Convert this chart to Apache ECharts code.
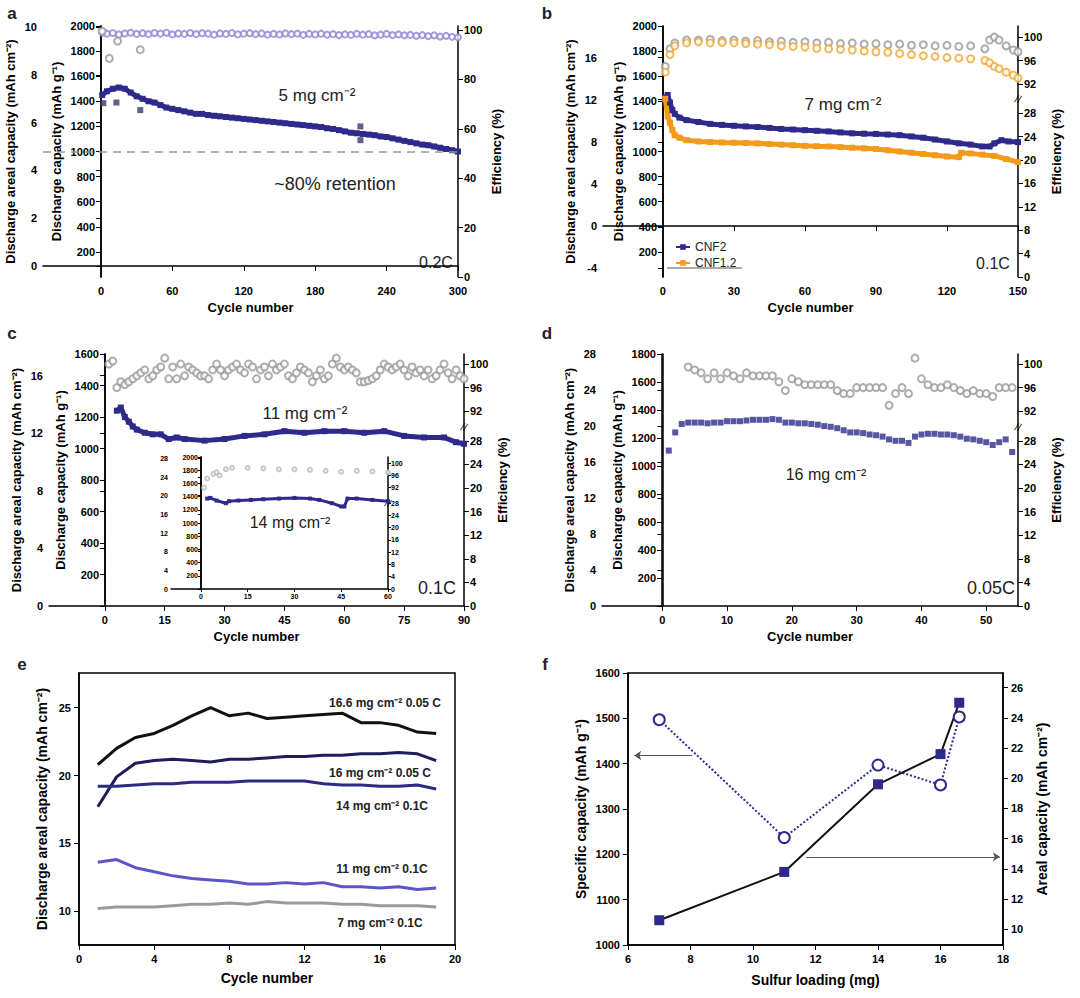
<!DOCTYPE html>
<html><head><meta charset="utf-8">
<script src="https://cdn.jsdelivr.net/npm/echarts@6/dist/echarts.min.js"></script>
<style>html,body{margin:0;background:#fff}#c{width:1080px;height:998px}</style>
</head><body><div id="c"></div>
<script>
// ---- data: panel a (5 mg cm-2, 0.2C) ----
var aCyc = [1,5,10,15,20,25,30,35,40,45,50,55,60,65,70,75,80,85,90,95,100,105,110,115,120,125,130,135,140,145,150,155,160,165,170,175,180,185,190,195,200,205,210,215,220,225,230,235,240,245,250,255,260,265,270,275,280,285,290,295,300];
var aCap = [1450,1480,1500,1510,1500,1470,1440,1420,1400,1390,1370,1350,1340,1330,1320,1310,1300,1300,1290,1285,1280,1275,1270,1265,1260,1255,1250,1245,1240,1235,1230,1225,1220,1215,1210,1205,1200,1195,1185,1180,1170,1160,1150,1145,1140,1135,1130,1120,1115,1105,1095,1085,1075,1065,1055,1050,1040,1030,1020,1010,1000];
var aEff = [99,98.5,98.8,98.2,98.6,98.9,98.4,98.7,98.3,98.8,98.5,98.9,98.2,98.6,98.4,98.8,98.3,98.7,98.5,98.1,98.6,98.4,98.8,98.2,98.5,98.7,98.3,98.6,98.1,98.4,98.2,98.6,98.3,98.5,98.0,98.4,98.2,98.5,98.1,98.3,97.9,98.2,98.0,98.4,98.1,98.3,97.8,98.1,98.4,97.9,98.2,97.8,98.0,97.6,97.9,97.5,97.8,97.3,97.6,97.2,97.0];
var aCapOutCyc = [2,13,33,218,218];
var aCapOut = [1385,1390,1330,1200,1090];
var aEffOutCyc = [1,7,14,33];
var aEffOut = [99.5,88.5,95.5,92];

// ---- panel b (7 mg cm-2, 0.1C) ----
var bCyc = [1,2,3,4,5,7,10,15,20,25,30,35,40,45,50,55,60,65,70,75,80,85,90,95,100,105,110,115,120,125,130,135,138,140,143,146,150];
var bCnf2 = [1430,1450,1390,1330,1300,1270,1250,1235,1220,1212,1205,1200,1195,1188,1180,1175,1170,1165,1160,1152,1145,1142,1140,1135,1130,1120,1110,1095,1080,1065,1055,1040,1040,1065,1090,1080,1075];
var bCnf12Cyc = [1,2,3,4,5,7,10,15,20,25,30,35,40,45,50,55,60,65,70,75,80,85,90,95,100,105,110,115,120,125,126,130,135,140,145,150];
var bCnf12 = [1420,1280,1230,1170,1130,1110,1090,1080,1075,1072,1070,1068,1065,1060,1055,1050,1045,1042,1040,1035,1030,1025,1020,1010,1000,990,980,970,960,955,990,985,975,965,940,915];
var bEffCyc = [1,3,5,10,15,20,25,30,35,40,45,50,55,60,65,70,75,80,85,90,95,100,105,110,115,120,125,130,136,138,140,142,145,148,150];
var bEff2 = [95,98,99,99.5,99.5,99.6,99.4,99.5,99.3,99.4,99.2,99.3,99.1,99.2,99.0,99.1,98.9,99.0,98.8,98.9,98.7,98.8,98.6,98.7,98.5,98.6,98.4,98.5,98.0,99.5,100,99.5,98.5,97.8,97.5];
var bEff12 = [94,97,98.5,99,99.2,99,99.1,99,98.9,98.8,98.7,98.5,98.4,98.3,98.1,98,97.9,97.8,97.6,97.5,97.4,97.2,97.0,96.8,96.7,96.5,96.4,96.3,96.0,95.6,95,94.6,94,93.5,93];

// ---- panel c (11 mg cm-2, 0.1C) ----
var cCyc = [3,4,5,6,7,8,10,12,14,16,18,20,25,30,35,40,45,50,55,60,65,70,75,80,85,88,90];
var cCap = [1240,1260,1200,1170,1140,1120,1100,1090,1090,1060,1070,1060,1050,1060,1080,1090,1110,1100,1110,1110,1100,1110,1080,1070,1070,1040,1030];
var cEff = [100,100.5,96,97,96.5,97,97.5,98,98.5,99,97.5,98,99,99.5,101,97.5,99.5,97.5,100,98,99.5,99,98.5,98,98,97.5,99,100,99,98,99,99.5,100,99,98.5,100,99.5,97.5,99,99.5,98,100,99,99.5,100,98,97.5,98.5,99.5,99,98.5,97,98,99,97.5,98,100,101,99.5,99,99.5,99,98.5,97,97,97.2,97.5,98,99,100,99.5,99,99.5,100,99,98,99.5,98.5,99,98,99,97.5,98,99,100,98.5,97.5,99,98,97.5];
// inset (14 mg cm-2)
var iCyc = [2,3,5,8,9,12,16,20,25,30,35,38,42,45,46,47,50,55,60];
var iCap = [1370,1380,1340,1300,1330,1340,1350,1360,1370,1380,1370,1350,1300,1250,1250,1370,1370,1350,1330];
var iEffCyc = [1,2,4,5,6,8,10,15,20,25,30,35,40,45,50,55,60];
var iEff = [92,95,96.5,97,96,98,98.5,98.5,98.3,98,98,97.8,97.5,97.2,97.5,97.3,97];

// ---- panel d (16 mg cm-2, 0.05C) ----
var dCap = [1110,1240,1300,1310,1310,1310,1305,1310,1310,1320,1320,1320,1325,1330,1330,1330,1335,1330,1310,1310,1305,1305,1300,1295,1285,1280,1270,1255,1240,1240,1235,1225,1220,1210,1190,1180,1180,1165,1210,1225,1230,1230,1225,1225,1220,1210,1195,1190,1180,1170,1150,1170,1190,1100];
var dEffCyc = [4,5,6,7,8,9,10,11,12,13,14,15,16,17,18,19,20,21,22,23,24,25,26,27,28,29,30,31,32,33,34,35,36,37,38,39,40,41,42,43,44,45,46,47,48,49,50,51,52,53,54];
var dEff = [99.5,99,98.5,97.5,98.5,97.5,98.5,98,97.5,98.5,98,98,98,98,97,95.5,97.5,97,96.5,96.5,96.5,96.5,96.5,95.5,95,95,96,96,96,96,96,93,95,96,95,101,97.5,96.5,96,96,96.5,96,95.5,95,95.5,95,95,94.5,96,96,96];

// ---- panel e (areal capacity vs cycle) ----
var eCyc = [1,2,3,4,5,6,7,8,9,10,11,12,13,14,15,16,17,18,19];
var eNames = ['16.6 mg cm⁻² 0.05 C','16 mg cm⁻² 0.05 C','14 mg cm⁻² 0.1C','11 mg cm⁻² 0.1C','7 mg cm⁻² 0.1C'];
var e166 = [20.8,22.0,22.8,23.1,23.7,24.4,25.0,24.4,24.6,24.2,24.3,24.4,24.5,24.6,23.9,23.9,23.7,23.2,23.1];
var e16 = [17.7,19.9,20.9,21.1,21.2,21.1,21.0,21.2,21.2,21.3,21.4,21.4,21.5,21.5,21.6,21.6,21.7,21.6,21.1];
var e14 = [19.2,19.2,19.3,19.4,19.4,19.5,19.5,19.5,19.6,19.6,19.6,19.6,19.4,19.3,19.3,19.2,19.2,19.3,19.0];
var e11 = [13.6,13.8,13.2,12.9,12.6,12.4,12.3,12.2,12.0,12.0,12.1,12.0,12.1,11.8,11.8,11.7,11.8,11.6,11.7];
var e7 = [10.2,10.3,10.3,10.3,10.4,10.5,10.5,10.6,10.5,10.7,10.6,10.6,10.6,10.5,10.5,10.4,10.4,10.4,10.3];

// ---- panel f (vs sulfur loading) ----
var fLoad = [7,11,14,16,16.6];
var fSpec = [1497,1237,1397,1353,1503];
var fAreal = [10.6,13.8,19.6,21.6,25.0];

var navy = '#2e2a8c';
var FONT = 'Liberation Sans';
function plain(v) { return String(v); }
var lab = { color: '#000', fontWeight: 'bold', fontSize: 11, fontFamily: FONT, formatter: plain };
var nm = { color: '#000', fontWeight: 'bold', fontSize: 13, fontFamily: FONT };
var line = { show: true, lineStyle: { color: '#000', width: 1.5 } };

function pairs(xs, ys, f) {
  return xs.map(function (x, i) { return [x, f ? f(ys[i]) : ys[i]]; });
}
function brk(e) { return e - 59; }            // broken efficiency axis: 92..100 drawn at 33..41
function brkLab(v) { return v > 30 ? String(v + 59) : String(v); }
function steps(a, b, s) { var r = []; for (var v = a; v <= b + 1e-9; v += s) r.push(+v.toFixed(3)); return r; }

var grids = [], xAxes = [], yAxes = [], series = [];

function panel(p) {
  var gi = grids.length;
  grids.push({ left: p.l, top: p.t, width: p.w, height: p.h, outerBoundsMode: 'none' });
  xAxes.push({
    gridIndex: gi, type: 'value', min: p.xMin, max: p.xMax,
    name: p.small ? '' : 'Cycle number', nameLocation: 'middle', nameGap: 24, nameTextStyle: nm,
    axisLine: line, splitLine: { show: false },
    axisTick: { customValues: p.xTicks, length: p.small ? 3 : 5 },
    axisLabel: Object.assign({}, lab, { customValues: p.xTicks, fontSize: p.small ? 7 : 11, margin: p.small ? 4 : 8 })
  });
  var ya = yAxes.length;
  var fs = p.small ? 7 : 11;
  yAxes.push({
    gridIndex: gi, type: 'value', position: 'left', min: p.arMin, max: p.arMax,
    name: p.small ? '' : 'Discharge areal capacity (mAh cm⁻²)', nameLocation: 'middle', nameGap: 26, nameTextStyle: nm,
    axisLine: line, splitLine: { show: false },
    axisTick: { customValues: p.arTicks, length: p.small ? 3 : 5 },
    axisLabel: Object.assign({}, lab, { customValues: p.arTicks, fontSize: fs, margin: p.small ? 3 : 6 })
  });
  yAxes.push({
    gridIndex: gi, type: 'value', position: 'left', offset: p.specOff, min: 0, max: p.spMax,
    name: p.small ? '' : 'Discharge capacity (mAh g⁻¹)', nameLocation: 'middle', nameGap: 38, nameTextStyle: nm,
    axisLine: line, splitLine: { show: false },
    axisTick: { customValues: p.spTicks, length: p.small ? 3 : 5 },
    axisLabel: Object.assign({}, lab, { customValues: p.spTicks, fontSize: fs, margin: p.small ? 3 : 6 })
  });
  yAxes.push({
    gridIndex: gi, type: 'value', position: 'right', min: 0, max: p.efMax,
    name: p.small ? '' : 'Efficiency (%)', nameLocation: 'middle', nameGap: 32, nameTextStyle: nm,
    axisLine: line, splitLine: { show: false },
    axisTick: { customValues: p.efTicks, length: p.small ? 3 : 5 },
    axisLabel: Object.assign({}, lab, { customValues: p.efTicks, fontSize: fs, margin: p.small ? 3 : 6,
      formatter: p.efFmt || plain })
  });
  return { x: gi, spec: ya + 1, eff: ya + 2 };
}
function capSeries(ax, data, color, size, extra) {
  return Object.assign({ type: 'line', xAxisIndex: ax.x, yAxisIndex: ax.spec, data: data,
    symbol: 'rect', symbolSize: size, showSymbol: true, itemStyle: { color: color },
    lineStyle: { color: color, width: size - 1 }, z: 3 }, extra || {});
}
function effSeries(ax, data, color, size) {
  return { type: 'scatter', xAxisIndex: ax.x, yAxisIndex: ax.eff, data: data,
    symbol: 'emptyCircle', symbolSize: size, itemStyle: { color: color, borderColor: color, borderWidth: 1 } };
}
var brkTicks = [0, 4, 8, 12, 16, 20, 24, 28, 33, 37, 41];

// panel a
var A = panel({ l: 43, t: 26, w: 415, h: 251, xMin: -48.7, xMax: 300, xTicks: steps(0, 300, 60),
  arMin: -0.46, arMax: 10.04, arTicks: steps(0, 10, 2), specOff: -58, spMax: 2000, spTicks: steps(200, 2000, 200),
  efMax: 101.6, efTicks: steps(0, 100, 20) });
series.push(effSeries(A, pairs(aCyc, aEff), '#8a86d6', 6));
series.push(effSeries(A, pairs(aEffOutCyc, aEffOut), '#999', 7));
series.push(capSeries(A, pairs(aCyc, aCap), navy, 6, {
  markLine: { silent: true, symbol: 'none', label: { show: false },
    lineStyle: { color: '#999', type: [8, 6], width: 1.5 }, data: [{ yAxis: 1000 }] } }));
series.push({ type: 'scatter', xAxisIndex: A.x, yAxisIndex: A.spec, data: pairs(aCapOutCyc, aCapOut),
  symbol: 'rect', symbolSize: 6, itemStyle: { color: '#3a3a70' } });

// panel b
var B = panel({ l: 603, t: 26, w: 415, h: 251, xMin: -25.3, xMax: 150, xTicks: steps(0, 150, 30),
  arMin: -4.83, arMax: 19.0, arTicks: steps(-4, 16, 4), specOff: -60, spMax: 2000, spTicks: steps(200, 2000, 200),
  efMax: 42.9, efTicks: brkTicks, efFmt: brkLab });
series.push(effSeries(B, pairs(bEffCyc, bEff2, brk), '#999', 7));
series.push(effSeries(B, pairs(bEffCyc, bEff12, brk), '#f0a830', 7));
series.push(capSeries(B, pairs(bCyc, bCnf2), navy, 6, { name: 'CNF2' }));
series.push(capSeries(B, pairs(bCnf12Cyc, bCnf12), '#f39a1e', 6, { name: 'CNF1.2' }));

// panel c
var C = panel({ l: 49, t: 354, w: 415, h: 252, xMin: -14, xMax: 90, xTicks: steps(0, 90, 15),
  arMin: 0, arMax: 17.5, arTicks: steps(0, 16, 4), specOff: -56, spMax: 1600, spTicks: steps(200, 1600, 200),
  efMax: 42.7, efTicks: brkTicks, efFmt: brkLab });
series.push(effSeries(C, pairs(steps(1, 90, 1), cEff, brk), '#999', 7));
series.push(capSeries(C, pairs(cCyc, cCap), navy, 6));
// inset of c
var I = panel({ small: true, l: 171, t: 457, w: 217, h: 132, xMin: -9.6, xMax: 60, xTicks: steps(0, 60, 15),
  arMin: 0, arMax: 28.3, arTicks: steps(0, 28, 4), specOff: -30, spMax: 2000, spTicks: steps(200, 2000, 200),
  efMax: 43, efTicks: brkTicks, efFmt: brkLab });
series.push(effSeries(I, pairs(iEffCyc, iEff, brk), '#bbb', 4));
series.push(capSeries(I, pairs(iCyc, iCap), navy, 4));

// panel d
var D = panel({ l: 602, t: 354, w: 416, h: 252, xMin: -9.3, xMax: 54.9, xTicks: steps(0, 50, 10),
  arMin: 0, arMax: 28, arTicks: steps(0, 28, 4), specOff: -60, spMax: 1800, spTicks: steps(200, 1800, 200),
  efMax: 42.7, efTicks: brkTicks, efFmt: brkLab });
series.push(effSeries(D, pairs(dEffCyc, dEff, brk), '#999', 7));
series.push({ type: 'scatter', xAxisIndex: D.x, yAxisIndex: D.spec, data: pairs(steps(1, 54, 1), dCap),
  symbol: 'rect', symbolSize: 6, itemStyle: { color: navy } });

// panel e
var gE = grids.length;
grids.push({ left: 79, top: 673, width: 376, height: 272, show: true, borderColor: '#000', borderWidth: 1.5, outerBoundsMode: 'none' });
xAxes.push({ gridIndex: gE, type: 'value', min: 0, max: 20, interval: 4, name: 'Cycle number', nameLocation: 'middle',
  nameGap: 26, nameTextStyle: Object.assign({}, nm, { fontSize: 14 }), axisLine: line, splitLine: { show: false }, axisLabel: lab });
var yE = yAxes.length;
yAxes.push({ gridIndex: gE, type: 'value', min: 7.5, max: 27.56, name: 'Discharge areal capacity (mAh cm⁻²)',
  nameLocation: 'middle', nameGap: 30, nameTextStyle: Object.assign({}, nm, { fontSize: 14 }), axisLine: line,
  splitLine: { show: false }, axisTick: { customValues: steps(10, 25, 5) },
  axisLabel: Object.assign({}, lab, { customValues: steps(10, 25, 5) }) });
[[e166, '#111'], [e16, '#1e1c5a'], [e14, '#2b2b85'], [e11, '#5a55c8'], [e7, '#9a9a9a']].forEach(function (s, i) {
  series.push({ type: 'line', name: eNames[i], xAxisIndex: gE, yAxisIndex: yE, data: pairs(eCyc, s[0]),
    showSymbol: false, lineStyle: { color: s[1], width: 3 } });
});

// panel f
var gF = grids.length;
grids.push({ left: 628, top: 673, width: 375, height: 272, show: true, borderColor: '#000', borderWidth: 1.5, outerBoundsMode: 'none' });
xAxes.push({ gridIndex: gF, type: 'value', min: 6, max: 18, interval: 2, name: 'Sulfur loading (mg)', nameLocation: 'middle',
  nameGap: 28, nameTextStyle: Object.assign({}, nm, { fontSize: 14 }), axisLine: line, splitLine: { show: false }, axisLabel: lab });
var yF = yAxes.length;
yAxes.push({ gridIndex: gF, type: 'value', min: 1000, max: 1600, interval: 100, name: 'Specific capacity (mAh g⁻¹)',
  nameLocation: 'middle', nameGap: 40, nameTextStyle: Object.assign({}, nm, { fontSize: 14 }), axisLine: line,
  splitLine: { show: false }, axisLabel: lab });
yAxes.push({ gridIndex: gF, type: 'value', position: 'right', min: 8.96, max: 26.97, name: 'Areal capacity (mAh cm⁻²)',
  nameLocation: 'middle', nameGap: 32, nameTextStyle: Object.assign({}, nm, { fontSize: 14 }), axisLine: line,
  splitLine: { show: false }, axisTick: { customValues: steps(10, 26, 2) },
  axisLabel: Object.assign({}, lab, { customValues: steps(10, 26, 2) }) });
var arrow = { silent: true, symbol: ['none', 'arrow'], symbolSize: 7, label: { show: false }, lineStyle: { color: '#555', type: 'solid', width: 1 } };
series.push({ type: 'line', xAxisIndex: gF, yAxisIndex: yF, data: pairs(fLoad, fSpec), symbol: 'emptyCircle', symbolSize: 11,
  itemStyle: { color: navy, borderWidth: 1.5 }, lineStyle: { color: navy, type: 'dotted', width: 2 },
  markLine: Object.assign({ data: [[{ coord: [8.05, 1418] }, { coord: [6.2, 1418] }]] }, arrow) });
series.push({ type: 'line', xAxisIndex: gF, yAxisIndex: yF + 1, data: pairs(fLoad, fAreal), symbol: 'rect', symbolSize: 10,
  itemStyle: { color: navy }, lineStyle: { color: '#111', width: 2 },
  markLine: Object.assign({ data: [[{ coord: [11.7, 14.8] }, { coord: [17.9, 14.8] }]] }, arrow) });

function txt(x, y, s, size, extra) {
  return Object.assign({ type: 'text', x: x, y: y, style: { text: s, fontSize: size, fontFamily: FONT, fill: '#222',
    align: 'center', verticalAlign: 'middle' } }, extra || {});
}
function bold(x, y, s, size) { var t = txt(x, y, s, size); t.style.fontWeight = 'bold'; return t; }
function brkMark(x, y) { return txt(x, y, '//', 11, { rotation: -0.3 }); }
var graphics = [
  bold(12, 13, 'a', 17), bold(547, 13, 'b', 17), bold(12, 333, 'c', 17), bold(547, 333, 'd', 17),
  bold(22, 664, 'e', 17), bold(545, 664, 'f', 17),
  txt(317, 95, '5 mg cm⁻²', 17), txt(335, 184, '~80% retention', 18), txt(436, 262, '0.2C', 16),
  txt(843, 104, '7 mg cm⁻²', 17), txt(993, 263, '0.1C', 16),
  txt(305, 413, '11 mg cm⁻²', 17), txt(290, 522, '14 mg cm⁻²', 16), txt(437, 588, '0.1C', 18),
  txt(826, 474, '16 mg cm⁻²', 16), txt(991, 588, '0.05C', 18),
  bold(385, 703, eNames[0], 12), bold(380, 773, eNames[1], 12), bold(382, 806, eNames[2], 12),
  bold(382, 869, eNames[3], 12), bold(380, 923, eNames[4], 12),
  brkMark(1018, 99), brkMark(464, 427), brkMark(1018, 427), brkMark(388, 503),
  { type: 'line', shape: { x1: 667, y1: 268, x2: 742, y2: 268 }, style: { stroke: '#555', lineWidth: 1 } }
];

var chart = echarts.init(document.getElementById('c'), null, { renderer: 'svg' });
chart.setOption({
  animation: false,
  legend: { data: ['CNF2', 'CNF1.2'], orient: 'vertical', left: 670, top: 236, itemWidth: 14, itemHeight: 7, itemGap: 4,
    textStyle: { fontSize: 12, fontFamily: FONT, color: '#222' } },
  grid: grids, xAxis: xAxes, yAxis: yAxes, series: series, graphic: graphics
});
</script></body></html>
